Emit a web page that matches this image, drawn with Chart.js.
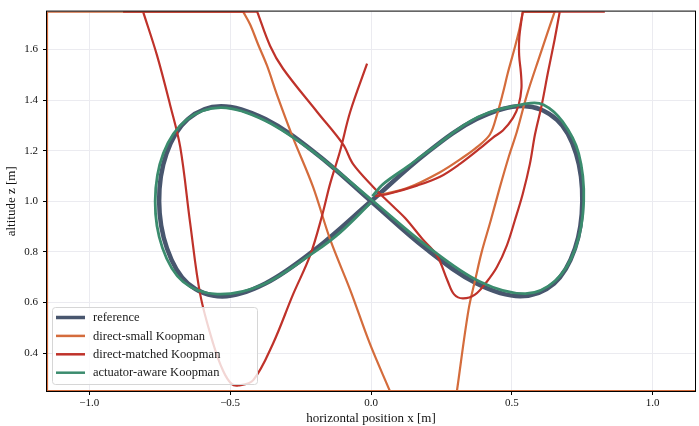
<!DOCTYPE html>
<html>
<head>
<meta charset="utf-8">
<script src="https://cdn.jsdelivr.net/npm/chart.js@4"></script>
<style>
  html, body { margin: 0; padding: 0; background: #fff; }
  #wrap { width: 699px; height: 426px; }
</style>
</head>
<body>
<div id="wrap"><canvas id="traj" width="699" height="426"></canvas></div>
<script>
// trajectories in the x-z plane.
// points outside the axes were clipped onto the edge, so those runs sit on the border
// (a repeated point marks where a run hits or leaves the border)
const seriesLabels = ['reference', 'direct-small Koopman', 'direct-matched Koopman', 'actuator-aware Koopman'];

const refX = [0, 0.194, 0.375, 0.540, 0.660, 0.728, 0.750, 0.724, 0.650, 0.530, 0.375, 0.194, 0,
              -0.194, -0.375, -0.532, -0.650, -0.726, -0.752, -0.724, -0.650, -0.528, -0.375, -0.194, 0];
const refZ = [1.000, 1.188, 1.325, 1.377, 1.322, 1.188, 1.000, 0.813, 0.675, 0.625, 0.675, 0.813, 1.000,
              1.188, 1.325, 1.376, 1.325, 1.188, 1.000, 0.813, 0.675, 0.624, 0.675, 0.813, 1.000];

const smallX = [0.020, 0.128, 0.245, 0.330, 0.376, 0.422, 0.447, 0.468, 0.486, 0.507, 0.525, 0.539, 0.539,
                0.652, 0.652, 0.599, 0.553, 0.518, 0.490, 0.456, 0.424, 0.393, 0.372, 0.346, 0.305, 0.305,
                1.150, 1.150, -1.150, -1.150, -1.150, -1.150, -0.454, -0.454, -0.429, -0.401, -0.369,
                -0.333, -0.277, -0.206, -0.145, -0.074, -0.004, 0.067];
const smallZ = [1.022, 1.052, 1.115, 1.176, 1.214, 1.264, 1.342, 1.427, 1.509, 1.594, 1.672, 1.750, 1.750,
                1.750, 1.750, 1.575, 1.419, 1.276, 1.180, 1.050, 0.920, 0.800, 0.700, 0.570, 0.250, 0.250,
                0.250, 0.250, 0.250, 0.250, 1.750, 1.750, 1.750, 1.750, 1.699, 1.621, 1.536,
                1.419, 1.252, 1.058, 0.849, 0.650, 0.437, 0.250];

const matchedX = [0.015, 0.067, 0.163, 0.245, 0.316, 0.390, 0.433, 0.468, 0.504, 0.524, 0.534, 0.532, 0.526,
                  0.526, 0.532, 0.539, 0.539, 0.830, 0.830, 0.670, 0.670, 0.652, 0.628, 0.606, 0.582, 0.564,
                  0.539, 0.511, 0.482, 0.447, 0.411, 0.369, 0.326, 0.295, 0.272, 0.234, 0.184, 0.121, 0.067,
                  0.007, -0.064, -0.099, -0.191, -0.312, -0.358, -0.404, -0.404, -0.880, -0.880, -0.809,
                  -0.809, -0.759, -0.713, -0.677, -0.642, -0.606, -0.560, -0.525, -0.495, -0.470, -0.418,
                  -0.348, -0.277, -0.216, -0.174, -0.145, -0.110, -0.074, -0.014];
const matchedZ = [1.020, 1.031, 1.062, 1.097, 1.148, 1.212, 1.252, 1.280, 1.330, 1.381, 1.447, 1.509, 1.575,
                  1.640, 1.700, 1.750, 1.750, 1.750, 1.750, 1.750, 1.750, 1.641, 1.509, 1.381, 1.264, 1.148,
                  1.031, 0.926, 0.825, 0.740, 0.682, 0.631, 0.616, 0.632, 0.685, 0.786, 0.849, 0.934, 0.992,
                  1.058, 1.148, 1.225, 1.353, 1.524, 1.614, 1.750, 1.750, 1.750, 1.750, 1.750,
                  1.750, 1.575, 1.381, 1.214, 0.915, 0.631, 0.437, 0.330, 0.278, 0.272, 0.293,
                  0.437, 0.631, 0.786, 0.942, 1.070, 1.198, 1.353, 1.544];

const awareX = [0.005, 0.043, 0.128, 0.200, 0.380, 0.552, 0.612, 0.680, 0.737, 0.755, 0.726, 0.655, 0.548,
                0.385, 0.200, 0.005, -0.190, -0.375, -0.530, -0.655, -0.737, -0.766, -0.740, -0.667, -0.546,
                -0.385, -0.200, -0.110, 0.000];
const awareZ = [1.020, 1.068, 1.136, 1.195, 1.333, 1.386, 1.382, 1.315, 1.190, 1.000, 0.815, 0.687, 0.635,
                0.683, 0.822, 1.003, 1.183, 1.318, 1.370, 1.322, 1.190, 1.000, 0.815, 0.682, 0.633,
                0.670, 0.800, 0.876, 0.995];

const xTicks = [-1.0, -0.5, 0.0, 0.5, 1.0];
const yTicks = [0.4, 0.6, 0.8, 1.0, 1.2, 1.4, 1.6];

const colours = ['#48566e', '#d46c3c', '#bf322a', '#3b8c6e'];
const widths = [4.5, 2.2, 2.2, 2.8];

function pts(xs, zs) {
    return xs.map((x, i) => ({ x: x, y: zs[i] }));
}

const serif = '"Liberation Serif", "Times New Roman", serif';

function fmt(v) {
    return (v < 0 ? '\u2212' : '') + Math.abs(v).toFixed(1);
}

// black box around the axes + legend in the lower-left corner
const frameAndLegend = {
    id: 'frameAndLegend',
    afterDatasetsDraw(chart) {
        const ctx = chart.ctx;
        const a = chart.chartArea;
        ctx.save();
        ctx.strokeStyle = '#000';
        ctx.lineWidth = 1;
        ctx.strokeRect(a.left - 0.5, a.top - 0.5, a.right - a.left + 1, a.bottom - a.top + 1);

        // legend box
        const bx = 52.5, by = 307.5, bw = 205, bh = 77, r = 3;
        ctx.beginPath();
        ctx.moveTo(bx + r, by);
        ctx.arcTo(bx + bw, by, bx + bw, by + bh, r);
        ctx.arcTo(bx + bw, by + bh, bx, by + bh, r);
        ctx.arcTo(bx, by + bh, bx, by, r);
        ctx.arcTo(bx, by, bx + bw, by, r);
        ctx.closePath();
        ctx.fillStyle = 'rgba(255,255,255,0.8)';
        ctx.fill();
        ctx.strokeStyle = '#d6d6d6';
        ctx.lineWidth = 1;
        ctx.stroke();

        ctx.font = '12.5px ' + serif;
        ctx.textBaseline = 'middle';
        ctx.textAlign = 'left';
        chart.data.datasets.forEach((ds, i) => {
            const y = 317.5 + i * 18.4;
            ctx.beginPath();
            ctx.moveTo(56, y);
            ctx.lineTo(85, y);
            ctx.strokeStyle = ds.borderColor;
            ctx.lineWidth = i === 0 ? 3.5 : 2.5;
            ctx.stroke();
            ctx.fillStyle = '#1a1a1a';
            ctx.fillText(ds.label, 93, y + 0.5);
        });
        ctx.restore();
    }
};

const datasets = [pts(refX, refZ), pts(smallX, smallZ), pts(matchedX, matchedZ), pts(awareX, awareZ)]
    .map((d, i) => ({
        label: seriesLabels[i],
        data: d,
        showLine: true,
        borderColor: colours[i],
        backgroundColor: colours[i],
        borderWidth: widths[i],
        pointRadius: 0,
        tension: 0.35,
        clip: 0,
        order: 4 - i
    }));

new Chart(document.getElementById('traj'), {
    type: 'scatter',
    data: { datasets: datasets },
    plugins: [frameAndLegend],
    options: {
        responsive: false,
        animation: false,
        devicePixelRatio: 1,
        layout: { padding: { top: 4, right: 4, left: 0, bottom: 0 } },
        plugins: { legend: { display: false }, tooltip: { enabled: false } },
        scales: {
            x: {
                type: 'linear',
                min: -1.15,
                max: 1.15,
                afterBuildTicks: s => { s.ticks = xTicks.map(v => ({ value: v })); },
                afterFit: s => { s.height = 35; },
                border: { display: false },
                grid: { color: '#ebebf0', lineWidth: 1, tickColor: '#000', tickLength: 4 },
                ticks: {
                    callback: v => fmt(v),
                    color: '#111',
                    font: { family: serif, size: 11 },
                    padding: 2,
                    maxRotation: 0
                },
                title: {
                    display: true,
                    text: 'horizontal position x [m]',
                    color: '#111',
                    font: { family: serif, size: 13 },
                    padding: { top: 0, bottom: 0 }
                }
            },
            y: {
                type: 'linear',
                min: 0.25,
                max: 1.75,
                afterBuildTicks: s => { s.ticks = yTicks.map(v => ({ value: v })); },
                afterFit: s => { s.width = 47; },
                border: { display: false },
                grid: { color: '#ebebf0', lineWidth: 1, tickColor: '#000', tickLength: 4 },
                ticks: {
                    callback: v => fmt(v),
                    color: '#111',
                    font: { family: serif, size: 11 },
                    padding: 5
                },
                title: {
                    display: true,
                    text: 'altitude z [m]',
                    color: '#111',
                    font: { family: serif, size: 13 },
                    padding: { top: 4, bottom: 0 }
                }
            }
        }
    }
});
</script>
</body>
</html>
